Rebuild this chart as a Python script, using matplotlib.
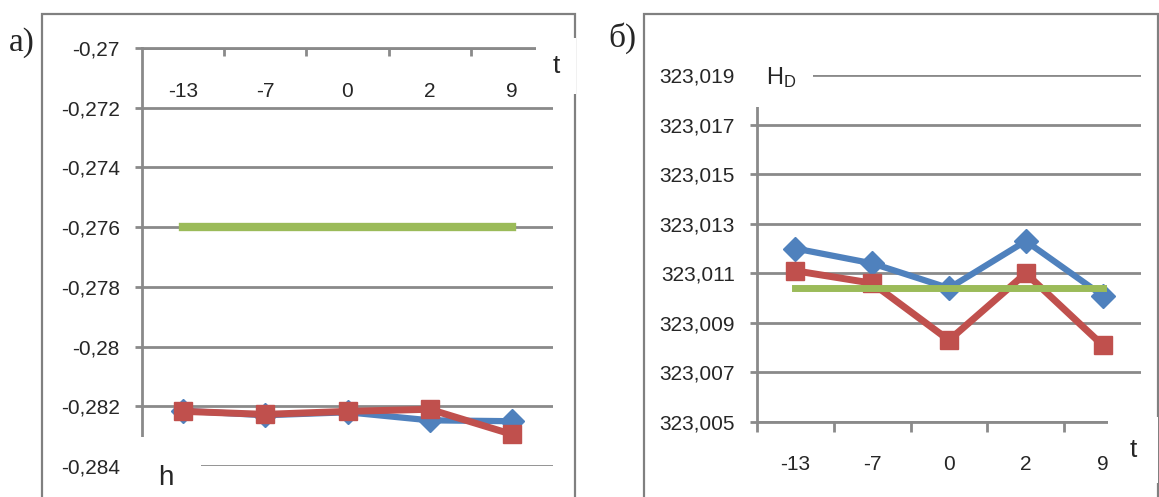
import matplotlib
matplotlib.use("Agg")
import matplotlib.pyplot as plt
from matplotlib.patches import Rectangle

plt.rcParams["font.family"] = ["Liberation Sans", "DejaVu Sans"]

# ── Data ─────────────────────────────────────────────────────────────────────
categories = ["-13", "-7", "0", "2", "9"]

# panel а): h
h_blue  = [-0.28215, -0.2823, -0.2822, -0.28247, -0.2825]
h_red   = [-0.28217, -0.28227, -0.28217, -0.2821, -0.28294]
h_green = [-0.276, -0.276, -0.276, -0.276, -0.276]
h_ticks = [-0.284, -0.282, -0.28, -0.278, -0.276, -0.274, -0.272, -0.27]

# panel б): H_D
hd_blue  = [323.0120, 323.0114, 323.0104, 323.0123, 323.0101]
hd_red   = [323.0111, 323.0106, 323.0083, 323.0110, 323.0081]
hd_green = [323.0104, 323.0104, 323.0104, 323.0104, 323.0104]
hd_ticks = [323.005, 323.007, 323.009, 323.011, 323.013, 323.015, 323.017, 323.019]

BLUE  = "#4F81BD"
RED   = "#C0504D"
GREEN = "#9BBB59"
GRID  = "#8a8a8a"
TXT   = "#262626"

W, H = 1159, 497
fig = plt.figure(figsize=(W / 100, H / 100), dpi=100)


def px_rect(x0, y0, x1, y1):
    """pixel box (top-left origin) -> figure fraction rect"""
    return [x0 / W, (H - y1) / H, (x1 - x0) / W, (y1 - y0) / H]


def comma(v):
    return f"{v:g}".replace(".", ",")


def style_axes(ax, ticks):
    xs = range(len(categories))
    ax.set_xlim(-0.5, len(categories) - 0.5)
    ax.set_ylim(ticks[0], ticks[-1])
    ax.set_yticks(ticks)
    ax.set_yticklabels([comma(t) for t in ticks])
    ax.set_xticks(list(xs))
    ax.set_xticklabels(categories)
    ax.yaxis.grid(True, color=GRID, lw=2)
    ax.set_axisbelow(True)
    for s in ax.spines.values():
        s.set_visible(False)
        s.set_color(GRID)
        s.set_linewidth(2)
    ax.spines["left"].set_visible(True)
    ax.tick_params(axis="y", direction="out", length=5, width=2, color=GRID,
                   pad=11, labelsize=15, labelcolor=TXT)
    ax.tick_params(axis="x", which="major", length=0, labelsize=15, labelcolor=TXT)
    ax.patch.set_alpha(0)


def draw_series(ax, blue, red, green, lw_g, ms_sq):
    xs = range(len(categories))
    ax.plot(xs, blue, color=BLUE, lw=4.5, marker="D", ms=12, clip_on=False, zorder=3)
    ax.plot(xs, red, color=RED, lw=5, marker="s", ms=ms_sq, clip_on=False, zorder=4)
    ax.plot(xs, green, color=GREEN, lw=lw_g, clip_on=False, zorder=5)


# ── Panel а) ─────────────────────────────────────────────────────────────────
ax1 = fig.add_axes(px_rect(142, 48, 553, 466))
style_axes(ax1, h_ticks)
draw_series(ax1, h_blue, h_red, h_green, 6, 13.5)
ax1.spines["top"].set_visible(True)
ax1.set_xticks([i + 0.5 for i in range(len(categories) - 1)], minor=True)
ax1.tick_params(axis="x", which="major", bottom=False, top=False,
                labelbottom=False, labeltop=True, pad=-38)
ax1.tick_params(axis="x", which="minor", bottom=False, top=True,
                direction="in", length=6, width=2, color=GRID)

# ── Panel б) ─────────────────────────────────────────────────────────────────
ax2 = fig.add_axes(px_rect(757, 75, 1141, 422))
style_axes(ax2, hd_ticks)
draw_series(ax2, hd_blue, hd_red, hd_green, 5, 12.5)
ax2.spines["bottom"].set_visible(True)
ax2.set_xticks([i - 0.5 for i in range(len(categories) + 1)], minor=True)
ax2.tick_params(axis="x", which="major", pad=24)
ax2.tick_params(axis="x", which="minor", bottom=True, direction="out",
                length=7, width=2, color=GRID)

# ── Frames and labels ────────────────────────────────────────────────────────
for x0, x1 in [(42, 575), (644, 1158)]:
    r = px_rect(x0, 14, x1, H + 20)
    fig.patches.append(Rectangle((r[0], r[1]), r[2], r[3], transform=fig.transFigure,
                                 fill=False, ec="#808080", lw=1.6))

lab = dict(ha="center", va="center", color=TXT)
fig.text(22 / W, 1 - 43 / H, "а)", family="Liberation Serif", fontsize=24, **lab)
fig.text(622 / W, 1 - 38 / H, "б)", family="Liberation Serif", fontsize=24, **lab)

box = lambda p: dict(boxstyle=f"square,pad={p}", fc="white", ec="none")
fig.text(556 / W, 1 - 66 / H, "t", fontsize=19, bbox=box(0.6), zorder=10, **lab)
fig.text(166 / W, 1 - 478 / H, "h", fontsize=20, bbox=box(1.0), zorder=10, **lab)
fig.text(781 / W, 1 - 78 / H, r"$\mathregular{H_D}$", fontsize=17, bbox=box(0.7), zorder=10, **lab)
fig.text(1133 / W, 1 - 450 / H, "t", fontsize=19, bbox=box(0.8), zorder=10, **lab)

fig.savefig("out.png", dpi=100)
